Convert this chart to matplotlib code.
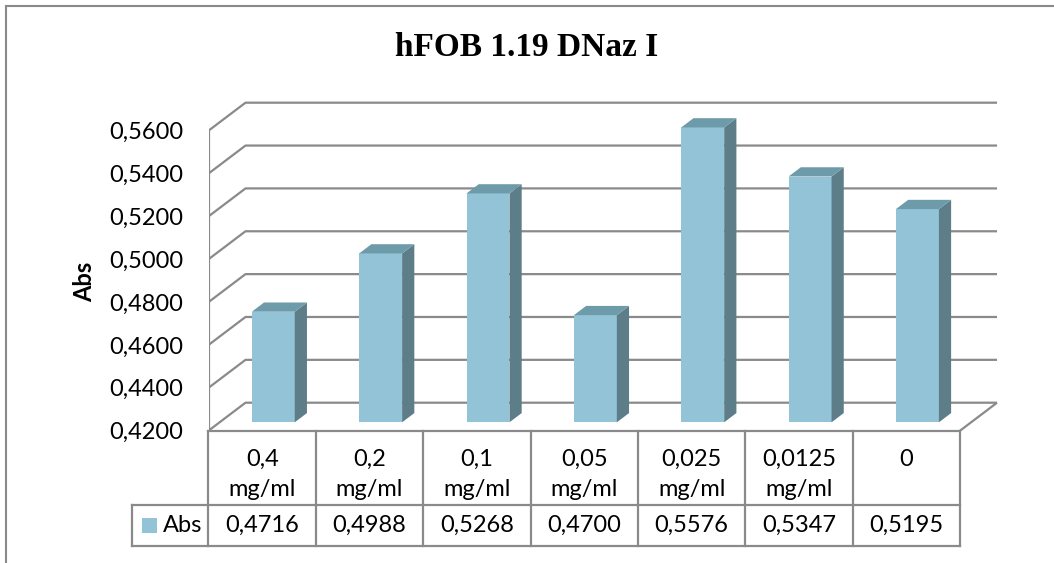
import numpy as np
import matplotlib
matplotlib.use("Agg")
import matplotlib.pyplot as plt
from matplotlib.patches import Polygon, Rectangle
from matplotlib.lines import Line2D

# dane
title = "hFOB 1.19 DNaz I"
series_name = "Abs"
categories = ["0,4 mg/ml", "0,2 mg/ml", "0,1 mg/ml", "0,05 mg/ml",
              "0,025 mg/ml", "0,0125 mg/ml", "0"]
abs_values = [0.4716, 0.4988, 0.5268, 0.4700, 0.5576, 0.5347, 0.5195]
y_ticks = [0.42, 0.44, 0.46, 0.48, 0.50, 0.52, 0.54, 0.56]

def fmt(v):
    return f"{v:.4f}".replace(".", ",")

# kolory i czcionki
front_col = "#93C3D6"
side_col = "#5D7E89"
top_col = "#6E9BA9"
line_col = "#8A8A8A"
sans = "Lato"
fs = 17

W, H = 1054, 563
fig = plt.figure(figsize=(W / 100, H / 100), dpi=100)

def box(x0, y0, x1, y1):
    return [x0 / W, 1 - y1 / H, (x1 - x0) / W, (y1 - y0) / H]

# skala osi (piksele na kategorie / na jednostke)
cat_px = 107.36
val_px = 2142.9
ax_l, ax_r, ax_t, ax_b = 208.5, 1010, 90, 430.7
ax = fig.add_axes(box(ax_l, ax_t, ax_r, ax_b))
ax.set_xlim(0, (ax_r - ax_l) / cat_px)
ax.set_ylim(y_ticks[0], y_ticks[0] + (ax_b - ax_t) / val_px)
ax.patch.set_visible(False)
for s in ax.spines.values():
    s.set_visible(False)

n = len(categories)
DX = 37 / cat_px
DY = 28 / val_px

# sciany i podloga
grid_kw = dict(color=line_col, lw=1.6, solid_capstyle="butt", zorder=1)
for v in y_ticks:
    ax.plot([0, DX, n + DX], [v, v + DY, v + DY], **grid_kw)
ax.plot([0, 0], [y_ticks[0], y_ticks[-1]], **grid_kw)
ax.plot([n, n + DX], [y_ticks[0], y_ticks[0] + DY], **grid_kw)

# slupki 3D
base = y_ticks[0]
d0, d1 = 0.30, 0.63
bw = 0.40
vals = np.array(abs_values)
lefts = np.arange(n) + 0.5 - bw / 2 + d0 * DX
ax.bar(lefts, vals - base, width=bw, bottom=base + d0 * DY, align="edge",
       color=front_col, zorder=3)
ddx = (d1 - d0) * DX
ddy = (d1 - d0) * DY
for xl, v in zip(lefts, vals):
    xr = xl + bw
    b0 = base + d0 * DY
    t0 = v + d0 * DY
    ax.add_patch(Polygon([(xr, b0), (xr + ddx, b0 + ddy), (xr + ddx, t0 + ddy), (xr, t0)],
                         closed=True, facecolor=side_col, edgecolor="none", zorder=3))
    ax.add_patch(Polygon([(xl, t0), (xr, t0), (xr + ddx, t0 + ddy), (xl + ddx, t0 + ddy)],
                         closed=True, facecolor=top_col, edgecolor="none", zorder=3))

ax.set_xticks([])
ax.set_yticks(y_ticks)
ax.set_yticklabels([fmt(v) for v in y_ticks], fontsize=fs, family=sans)
ax.tick_params(axis="y", length=0, pad=18.4)

fig.text(85 / W, 1 - 282 / H, series_name, rotation=90, ha="center", va="center",
         fontsize=fs, family=sans, fontweight="bold")
fig.text(527 / W, 1 - 47 / H, title, ha="center", va="center",
         fontsize=24, family="Liberation Serif", fontweight="bold")

# tabela danych
head_h, row_h = 74, 41
total = head_h + row_h
leg_w = (ax_l - 132.3) / cat_px
tab = fig.add_axes(box(132.3, 431, 960, 546))
tab.set_xlim(-leg_w, n)
tab.set_ylim(0, total)
tab.axis("off")
tk = dict(color=line_col, lw=1.6, clip_on=False, solid_capstyle="projecting")
tab.plot([0, n], [total, total], **tk)
tab.plot([-leg_w, n], [row_h, row_h], **tk)
tab.plot([-leg_w, n], [0, 0], **tk)
for k in range(n + 1):
    tab.plot([k, k], [0, total], **tk)
tab.plot([-leg_w, -leg_w], [0, row_h], **tk)

line_y = [87, 57]
for i, (c, v) in enumerate(zip(categories, abs_values)):
    for j, part in enumerate(c.split(" ")):
        tab.text(i + 0.5, line_y[j], part, ha="center", va="center",
                 fontsize=fs, family=sans)
    tab.text(i + 0.5, row_h / 2, fmt(v), ha="center", va="center",
             fontsize=fs, family=sans)

tab.add_patch(Rectangle((-0.622, 13.3), 0.14, 15, facecolor=front_col,
                        edgecolor="none", clip_on=False))
tab.text(-0.424, row_h / 2, series_name, ha="left", va="center",
         fontsize=fs, family=sans)

# ramka wykresu
fig.add_artist(Line2D([6 / W, 6 / W], [0, 1 - 6 / H], color=line_col, lw=1.5))
fig.add_artist(Line2D([6 / W, 1], [1 - 6 / H, 1 - 6 / H], color=line_col, lw=1.5))

fig.savefig("out.png", dpi=100)
